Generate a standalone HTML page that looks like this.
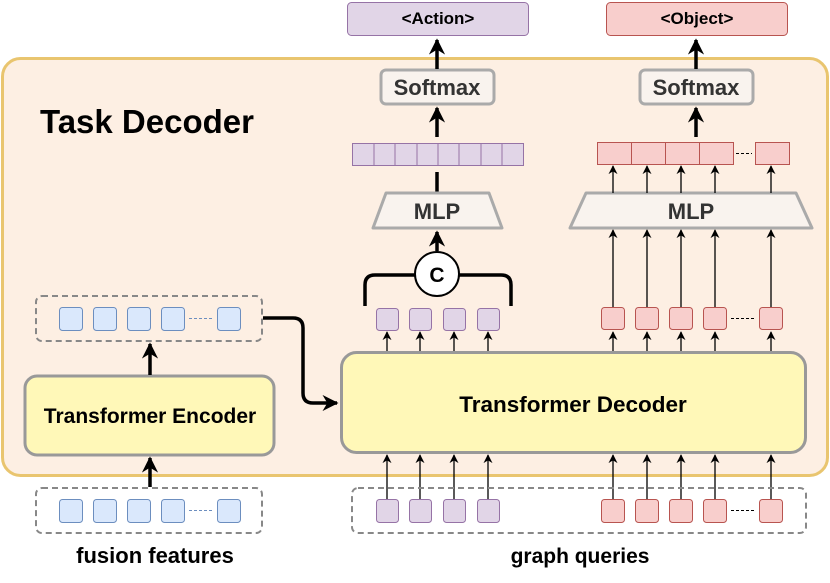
<!DOCTYPE html>
<html><head><meta charset="utf-8"><style>
html,body{margin:0;padding:0;background:#fff;}
svg{display:block;font-family:"Liberation Sans",Arial,sans-serif;font-weight:bold;}
</style></head><body>
<svg width="830" height="583" viewBox="0 0 830 583" xmlns="http://www.w3.org/2000/svg">
<defs>
<marker id="ab" viewBox="0 0 10 10" refX="9" refY="5" markerWidth="9" markerHeight="9" orient="auto" markerUnits="userSpaceOnUse"><path d="M0,0 L10,5 L0,10 L3,5 Z" fill="#000"/></marker>
<marker id="aL" viewBox="0 0 10 10" refX="9" refY="5" markerWidth="4.6" markerHeight="4.6" orient="auto"><path d="M0,0 L10,5 L0,10 L3,5 Z" fill="#000"/></marker>
</defs>
<rect x="2.5" y="58.5" width="825" height="417" rx="18" fill="#fdefe3" stroke="#e9c56f" stroke-width="3"/>
<text x="40" y="133" font-size="33">Task Decoder</text>
<rect x="347.5" y="2.5" width="181" height="33" rx="4" fill="#e1d5e7" stroke="#9673a6"/>
<text x="438" y="24" font-size="17" text-anchor="middle">&lt;Action&gt;</text>
<rect x="606.5" y="2.5" width="181" height="33" rx="4" fill="#f8cecc" stroke="#b85450"/>
<text x="697" y="24" font-size="17" text-anchor="middle">&lt;Object&gt;</text>
<rect x="381" y="70" width="113" height="34" rx="5" fill="#f9f3ee" stroke="#aaa" stroke-width="3"/>
<text x="437" y="95" font-size="22" text-anchor="middle" fill="#333">Softmax</text>
<rect x="640" y="70" width="113" height="34" rx="5" fill="#f9f3ee" stroke="#aaa" stroke-width="3"/>
<text x="696" y="95" font-size="22" text-anchor="middle" fill="#333">Softmax</text>
<g stroke="#000" stroke-width="3.5" fill="none">
<line x1="437" y1="69" x2="437" y2="40" marker-end="url(#aL)"/>
<line x1="696" y1="69" x2="696" y2="40" marker-end="url(#aL)"/>
<line x1="437" y1="137" x2="437" y2="108" marker-end="url(#aL)"/>
<line x1="696" y1="137" x2="696" y2="108" marker-end="url(#aL)"/>
<line x1="437" y1="172" x2="437" y2="193"/>
<line x1="437" y1="251" x2="437" y2="232" marker-end="url(#aL)"/>
</g>
<rect x="352.5" y="143.5" width="171" height="22" fill="#e1d5e7" stroke="#9673a6"/>
<g stroke="#9673a6">
<line x1="374" y1="143.5" x2="374" y2="165.5"/><line x1="395" y1="143.5" x2="395" y2="165.5"/><line x1="417" y1="143.5" x2="417" y2="165.5"/><line x1="438" y1="143.5" x2="438" y2="165.5"/><line x1="459" y1="143.5" x2="459" y2="165.5"/><line x1="481" y1="143.5" x2="481" y2="165.5"/><line x1="502" y1="143.5" x2="502" y2="165.5"/>
</g>
<g fill="#f8cecc" stroke="#b85450">
<rect x="597.5" y="142.5" width="34" height="22"/><rect x="631.5" y="142.5" width="34" height="22"/><rect x="665.5" y="142.5" width="34" height="22"/><rect x="699.5" y="142.5" width="34" height="22"/><rect x="755.5" y="142.5" width="34" height="22"/>
</g>
<line x1="736" y1="153.5" x2="752" y2="153.5" stroke="#000" stroke-dasharray="3,2"/>
<path d="M386,193 L489,193 L502,228 L373,228 Z" fill="#f9f3ee" stroke="#aaa" stroke-width="3" stroke-linejoin="round"/>
<text x="437" y="219" font-size="22" text-anchor="middle" fill="#333">MLP</text>
<path d="M586,193 L796,193 L812,228 L570,228 Z" fill="#f9f3ee" stroke="#aaa" stroke-width="3" stroke-linejoin="round"/>
<text x="691" y="219" font-size="22" text-anchor="middle" fill="#333">MLP</text>
<g stroke="#000" stroke-width="1.3">
<line x1="613" y1="193" x2="613" y2="166" marker-end="url(#ab)"/>
<line x1="647" y1="193" x2="647" y2="166" marker-end="url(#ab)"/>
<line x1="681" y1="193" x2="681" y2="166" marker-end="url(#ab)"/>
<line x1="715" y1="193" x2="715" y2="166" marker-end="url(#ab)"/>
<line x1="771" y1="193" x2="771" y2="166" marker-end="url(#ab)"/>
<line x1="613" y1="307" x2="613" y2="230" marker-end="url(#ab)"/>
<line x1="647" y1="307" x2="647" y2="230" marker-end="url(#ab)"/>
<line x1="681" y1="307" x2="681" y2="230" marker-end="url(#ab)"/>
<line x1="715" y1="307" x2="715" y2="230" marker-end="url(#ab)"/>
<line x1="771" y1="307" x2="771" y2="230" marker-end="url(#ab)"/>
<line x1="387" y1="352" x2="387" y2="332" marker-end="url(#ab)"/>
<line x1="420" y1="352" x2="420" y2="332" marker-end="url(#ab)"/>
<line x1="454" y1="352" x2="454" y2="332" marker-end="url(#ab)"/>
<line x1="488" y1="352" x2="488" y2="332" marker-end="url(#ab)"/>
<line x1="613" y1="352" x2="613" y2="332" marker-end="url(#ab)"/>
<line x1="647" y1="352" x2="647" y2="332" marker-end="url(#ab)"/>
<line x1="681" y1="352" x2="681" y2="332" marker-end="url(#ab)"/>
<line x1="715" y1="352" x2="715" y2="332" marker-end="url(#ab)"/>
<line x1="771" y1="352" x2="771" y2="332" marker-end="url(#ab)"/>
<line x1="387" y1="499" x2="387" y2="455" marker-end="url(#ab)"/>
<line x1="420" y1="499" x2="420" y2="455" marker-end="url(#ab)"/>
<line x1="454" y1="499" x2="454" y2="455" marker-end="url(#ab)"/>
<line x1="488" y1="499" x2="488" y2="455" marker-end="url(#ab)"/>
<line x1="613" y1="499" x2="613" y2="455" marker-end="url(#ab)"/>
<line x1="647" y1="499" x2="647" y2="455" marker-end="url(#ab)"/>
<line x1="681" y1="499" x2="681" y2="455" marker-end="url(#ab)"/>
<line x1="715" y1="499" x2="715" y2="455" marker-end="url(#ab)"/>
<line x1="771" y1="499" x2="771" y2="455" marker-end="url(#ab)"/>
</g>
<path d="M365,306 L365,285 Q365,275 375,275 L501,275 Q511,275 511,285 L511,306" fill="none" stroke="#000" stroke-width="3.5"/>
<circle cx="437" cy="274" r="22" fill="#fff" stroke="#000" stroke-width="2"/>
<text x="437" y="282" font-size="21" text-anchor="middle">C</text>
<g fill="#e1d5e7" stroke="#9673a6">
<rect x="376.5" y="308.5" width="22" height="22" rx="3"/><rect x="409.5" y="308.5" width="22" height="22" rx="3"/><rect x="443.5" y="308.5" width="22" height="22" rx="3"/><rect x="477.5" y="308.5" width="22" height="22" rx="3"/>
</g>
<g fill="#f8cecc" stroke="#b85450">
<rect x="601.5" y="307.5" width="23" height="22" rx="3"/><rect x="635.5" y="307.5" width="23" height="22" rx="3"/><rect x="669.5" y="307.5" width="23" height="22" rx="3"/><rect x="703.5" y="307.5" width="23" height="22" rx="3"/><rect x="759.5" y="307.5" width="23" height="22" rx="3"/>
</g>
<line x1="731" y1="318.5" x2="755" y2="318.5" stroke="#000" stroke-dasharray="3,2"/>
<rect x="341.5" y="352.5" width="464" height="100" rx="15" fill="#fff8b8" stroke="#999" stroke-width="3"/>
<text x="573" y="412" font-size="22.5" text-anchor="middle">Transformer Decoder</text>
<rect x="25" y="376" width="249" height="79" rx="12" fill="#fff8b8" stroke="#999" stroke-width="3"/>
<text x="150" y="423" font-size="21" text-anchor="middle">Transformer Encoder</text>
<g stroke="#000" stroke-width="3.5" fill="none">
<line x1="150" y1="375" x2="150" y2="344" marker-end="url(#aL)"/>
<line x1="150" y1="487" x2="150" y2="458" marker-end="url(#aL)"/>
<path d="M263,318 L293,318 Q303,318 303,328 L303,393 Q303,403 313,403 L337,403" marker-end="url(#aL)"/>
</g>
<g fill="none" stroke="#888" stroke-width="2" stroke-dasharray="6,4">
<rect x="36" y="296" width="226" height="45" rx="6"/>
<rect x="36" y="488" width="226" height="45" rx="6"/>
<rect x="352" y="488" width="454" height="45" rx="6"/>
</g>
<g fill="#dae8fc" stroke="#6c8ebf">
<rect x="59.5" y="307.5" width="23" height="23" rx="3"/><rect x="93.5" y="307.5" width="23" height="23" rx="3"/><rect x="127.5" y="307.5" width="23" height="23" rx="3"/><rect x="161.5" y="307.5" width="23" height="23" rx="3"/><rect x="217.5" y="307.5" width="23" height="23" rx="3"/>
<rect x="59.5" y="499.5" width="23" height="23" rx="3"/><rect x="93.5" y="499.5" width="23" height="23" rx="3"/><rect x="127.5" y="499.5" width="23" height="23" rx="3"/><rect x="161.5" y="499.5" width="23" height="23" rx="3"/><rect x="217.5" y="499.5" width="23" height="23" rx="3"/>
</g>
<g stroke="#6c8ebf" stroke-dasharray="3,2"><line x1="189" y1="318.5" x2="213" y2="318.5"/><line x1="189" y1="510.5" x2="213" y2="510.5"/></g>
<g fill="#e1d5e7" stroke="#9673a6">
<rect x="376.5" y="499.5" width="22" height="23" rx="3"/><rect x="409.5" y="499.5" width="22" height="23" rx="3"/><rect x="443.5" y="499.5" width="22" height="23" rx="3"/><rect x="477.5" y="499.5" width="22" height="23" rx="3"/>
</g>
<g fill="#f8cecc" stroke="#b85450">
<rect x="601.5" y="499.5" width="23" height="23" rx="3"/><rect x="635.5" y="499.5" width="23" height="23" rx="3"/><rect x="669.5" y="499.5" width="23" height="23" rx="3"/><rect x="703.5" y="499.5" width="23" height="23" rx="3"/><rect x="759.5" y="499.5" width="23" height="23" rx="3"/>
</g>
<line x1="731" y1="510.5" x2="755" y2="510.5" stroke="#000" stroke-dasharray="3,2"/>
<text x="155" y="563" font-size="22" text-anchor="middle">fusion features</text>
<text x="580" y="563" font-size="21" text-anchor="middle">graph queries</text>
</svg>
</body></html>
